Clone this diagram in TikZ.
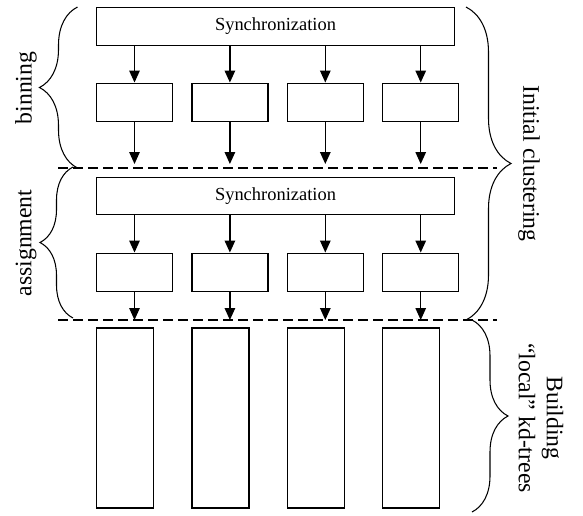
\documentclass[tikz,border=0pt]{standalone}
\usepackage{fontspec}
\setmainfont{Liberation Serif}
\usetikzlibrary{shapes, arrows.meta, positioning, decorations.pathreplacing}
\tikzstyle{syncbox} = [rectangle, minimum width=7.16cm, minimum height=0.75cm, inner sep=0pt, text centered, draw=black, thick, font=\fontsize{10.5}{12}\selectfont]
\tikzstyle{smallbox} = [rectangle, minimum width=1.52cm, minimum height=0.77cm, inner sep=0pt, draw=black, thick]
\tikzstyle{tallbox} = [rectangle, minimum width=1.14cm, minimum height=3.6cm, inner sep=0pt, draw=black, thick]
\tikzstyle{sidelabel} = [font=\fontsize{13.5}{16}\selectfont, align=center]
\tikzstyle{arrow} = [thick, ->, >={Triangle[length=2.4mm, width=2.1mm]}]
\tikzstyle{divider} = [semithick, dash pattern=on 2mm off 1mm]
\tikzstyle{brace} = [semithick, decorate]

\begin{document}
\begin{tikzpicture}

    \useasboundingbox (0,0) rectangle (11.66,-10.30);

    % binning stage
    \node (sync1) [syncbox] at (5.51,-0.53) {Synchronization};
    \node (b11) [smallbox] at (2.69,-2.05) {};
    \node (b12) [smallbox, right=0.36cm of b11] {};
    \node (b13) [smallbox, right=0.36cm of b12] {};
    \node (b14) [smallbox, right=0.36cm of b13] {};

    % assignment stage
    \node (sync2) [syncbox] at (5.51,-3.92) {Synchronization};
    \node (b21) [smallbox] at (2.69,-5.45) {};
    \node (b22) [smallbox, right=0.36cm of b21] {};
    \node (b23) [smallbox, right=0.36cm of b22] {};
    \node (b24) [smallbox, right=0.36cm of b23] {};

    % local kd-trees
    \node (t1) [tallbox] at (2.50,-8.36) {};
    \node (t2) [tallbox, right=0.74cm of t1] {};
    \node (t3) [tallbox, right=0.74cm of t2] {};
    \node (t4) [tallbox, right=0.74cm of t3] {};

    \coordinate (dashL1) at (1.16,-3.36);
    \coordinate (dashR1) at (9.94,-3.36);
    \coordinate (dashL2) at (1.16,-6.40);
    \coordinate (dashR2) at (9.94,-6.40);
    \draw[divider] (dashL1) -- (dashR1);
    \draw[divider] (dashL2) -- (dashR2);

    \foreach \i in {1,2,3,4} {
        \draw[arrow] (b1\i |- sync1.south) -- (b1\i);
        \draw[arrow] (b1\i) -- ([yshift=0.08cm]b1\i |- dashL1);
        \draw[arrow] (b2\i |- sync2.south) -- (b2\i);
        \draw[arrow] (b2\i) -- (b2\i |- dashL2);
    }

    % braces
    \draw[brace, decoration={brace, amplitude=0.76cm}] (1.55,-3.36) -- (1.55,-0.14);
    \draw[brace, decoration={brace, amplitude=0.66cm}] (1.46,-6.36) -- (1.46,-3.34);
    \draw[brace, decoration={brace, amplitude=0.9cm}] (9.32,-0.14) -- (9.32,-6.40);
    \draw[brace, decoration={brace, amplitude=0.72cm}] (9.44,-6.40) -- (9.44,-10.24);

    \node (binning) [sidelabel, rotate=90] at (0.52,-1.76) {binning};
    \node (assign) [sidelabel, rotate=90] at (0.52,-4.86) {assignment};
    \node (initial) [sidelabel, rotate=-90] at (10.58,-3.27) {Initial clustering};
    \node (building) [sidelabel, rotate=-90] at (10.82,-8.36) {Building\\“local” kd-trees};

\end{tikzpicture}
\end{document}
